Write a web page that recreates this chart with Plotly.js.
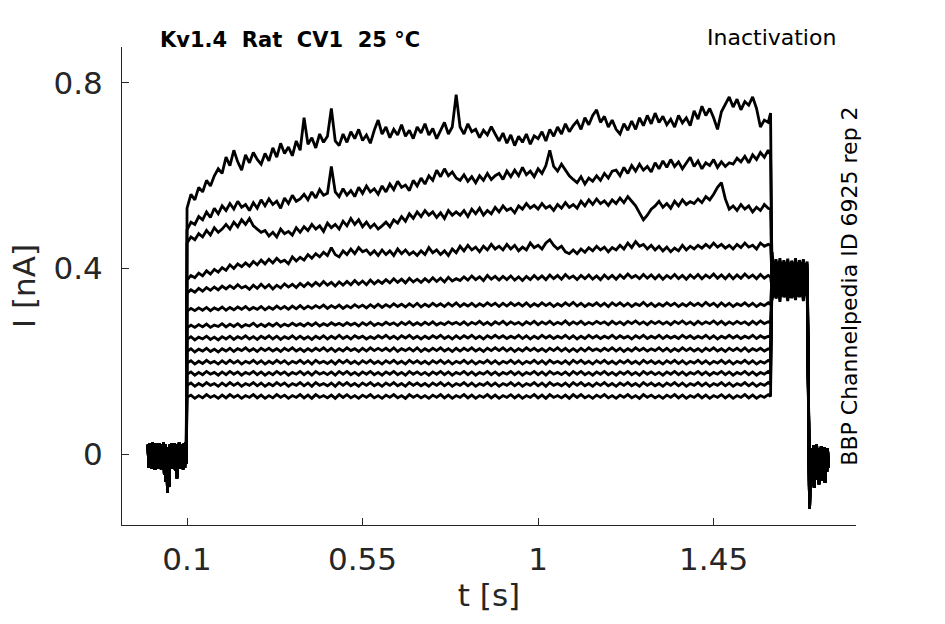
<!DOCTYPE html>
<html>
<head>
<meta charset="utf-8">
<script src="https://cdn.plot.ly/plotly-3.0.1.min.js"></script>
<style>
  html, body { margin: 0; padding: 0; background: #fff; }
  #chart { width: 945px; height: 624px; }
</style>
</head>
<body>
<div id="chart"></div>
<script>
// holding period before the step (shared by all sweeps)
const preT = [0.000,0.002,0.004,0.006,0.008,0.010,0.012,0.014,0.016,0.018,0.020,0.022,0.024,0.026,0.028,0.030,0.032,0.034,0.036,0.038,
              0.040,0.042,0.044,0.046,0.048,0.050,0.052,0.054,0.056,0.058,0.060,0.062,0.064,0.066,0.068,0.070,0.072,0.074,0.076,0.078,
              0.080,0.082,0.084,0.086,0.088,0.090,0.092,0.094,0.096,0.098];
const preI = [0.020,-0.030,0.022,-0.028,0.018,-0.032,0.024,-0.030,0.020,-0.034,0.022,-0.029,0.019,-0.031,0.023,-0.030,0.021,-0.033,0.018,-0.030,
              0.024,-0.045,0.020,-0.060,0.015,-0.084,0.010,-0.070,0.020,-0.030,0.022,-0.032,0.019,-0.028,0.023,-0.035,0.020,-0.052,0.018,-0.030,
              0.024,-0.031,0.021,-0.029,0.019,-0.033,0.022,-0.030,0.025,-0.020];

// conditioning step, 0.1 s .. 1.6 s (one list per sweep)
const stepT = [0.10,0.11,0.12,0.13,0.14,0.15,0.16,0.17,0.18,0.19, 0.20,0.21,0.22,0.23,0.24,0.25,0.26,0.27,0.28,0.29,
               0.30,0.31,0.32,0.33,0.34,0.35,0.36,0.37,0.38,0.39, 0.40,0.41,0.42,0.43,0.44,0.45,0.46,0.47,0.48,0.49,
               0.50,0.51,0.52,0.53,0.54,0.55,0.56,0.57,0.58,0.59, 0.60,0.61,0.62,0.63,0.64,0.65,0.66,0.67,0.68,0.69,
               0.70,0.71,0.72,0.73,0.74,0.75,0.76,0.77,0.78,0.79, 0.80,0.81,0.82,0.83,0.84,0.85,0.86,0.87,0.88,0.89,
               0.90,0.91,0.92,0.93,0.94,0.95,0.96,0.97,0.98,0.99, 1.00,1.01,1.02,1.03,1.04,1.05,1.06,1.07,1.08,1.09,
               1.10,1.11,1.12,1.13,1.14,1.15,1.16,1.17,1.18,1.19, 1.20,1.21,1.22,1.23,1.24,1.25,1.26,1.27,1.28,1.29,
               1.30,1.31,1.32,1.33,1.34,1.35,1.36,1.37,1.38,1.39, 1.40,1.41,1.42,1.43,1.44,1.45,1.46,1.47,1.48,1.49,
               1.50,1.51,1.52,1.53,1.54,1.55,1.56,1.57,1.58,1.59, 1.596];

const sweep1 = [0.530,0.560,0.548,0.575,0.565,0.590,0.578,0.600,0.615,0.605, 0.640,0.622,0.655,0.630,0.612,0.645,0.628,0.650,0.635,0.625,
                0.648,0.632,0.660,0.640,0.670,0.648,0.662,0.643,0.675,0.655, 0.725,0.668,0.682,0.660,0.690,0.672,0.685,0.745,0.675,0.665,
                0.690,0.672,0.695,0.680,0.700,0.676,0.688,0.670,0.698,0.720, 0.690,0.705,0.682,0.700,0.688,0.710,0.685,0.698,0.680,0.705,
                0.692,0.712,0.688,0.702,0.680,0.698,0.715,0.690,0.705,0.775, 0.705,0.690,0.712,0.695,0.700,0.682,0.698,0.688,0.706,0.690,
                0.675,0.692,0.670,0.688,0.665,0.685,0.672,0.690,0.668,0.686, 0.680,0.695,0.675,0.700,0.685,0.705,0.690,0.712,0.695,0.708,
                0.718,0.700,0.725,0.710,0.730,0.742,0.715,0.728,0.705,0.720, 0.700,0.690,0.712,0.698,0.718,0.700,0.725,0.708,0.730,0.712,
                0.735,0.715,0.728,0.710,0.722,0.705,0.730,0.714,0.725,0.708, 0.740,0.722,0.750,0.730,0.745,0.725,0.700,0.738,0.755,0.770,
                0.748,0.765,0.742,0.760,0.752,0.770,0.745,0.705,0.720,0.715, 0.735];
const sweep2 = [0.483,0.500,0.495,0.512,0.505,0.522,0.510,0.530,0.518,0.535, 0.525,0.540,0.528,0.545,0.532,0.538,0.525,0.542,0.530,0.548,
                0.535,0.550,0.538,0.545,0.530,0.552,0.540,0.558,0.545,0.550, 0.560,0.548,0.565,0.552,0.570,0.558,0.562,0.620,0.565,0.555,
                0.572,0.558,0.568,0.555,0.575,0.562,0.578,0.565,0.572,0.560, 0.578,0.565,0.582,0.570,0.588,0.575,0.580,0.568,0.590,0.578,
                0.595,0.582,0.600,0.590,0.612,0.598,0.615,0.600,0.608,0.595, 0.590,0.602,0.588,0.598,0.585,0.600,0.590,0.605,0.592,0.600,
                0.605,0.592,0.610,0.598,0.612,0.600,0.618,0.602,0.610,0.598, 0.615,0.605,0.622,0.655,0.620,0.610,0.625,0.612,0.600,0.592,
                0.585,0.598,0.582,0.595,0.588,0.600,0.590,0.605,0.595,0.610, 0.612,0.600,0.618,0.605,0.622,0.610,0.625,0.612,0.620,0.608,
                0.628,0.615,0.632,0.618,0.635,0.620,0.630,0.615,0.628,0.640, 0.620,0.632,0.615,0.628,0.622,0.635,0.618,0.630,0.620,0.628,
                0.625,0.638,0.630,0.642,0.628,0.645,0.635,0.650,0.640,0.655, 0.645];
const sweep3 = [0.455,0.468,0.462,0.475,0.468,0.482,0.472,0.488,0.478,0.485, 0.495,0.485,0.500,0.490,0.505,0.495,0.508,0.492,0.485,0.478,
                0.482,0.470,0.478,0.468,0.485,0.475,0.480,0.472,0.488,0.478, 0.490,0.482,0.495,0.485,0.492,0.480,0.498,0.488,0.495,0.485,
                0.502,0.492,0.508,0.495,0.505,0.490,0.500,0.488,0.496,0.485, 0.492,0.500,0.490,0.505,0.498,0.512,0.502,0.518,0.508,0.522,
                0.512,0.525,0.515,0.522,0.510,0.520,0.508,0.525,0.515,0.522, 0.515,0.525,0.512,0.528,0.518,0.530,0.515,0.525,0.518,0.532,
                0.522,0.535,0.525,0.530,0.520,0.535,0.528,0.540,0.530,0.536, 0.528,0.540,0.530,0.535,0.525,0.538,0.530,0.542,0.532,0.538,
                0.530,0.545,0.535,0.548,0.538,0.550,0.540,0.546,0.536,0.548, 0.540,0.552,0.542,0.555,0.545,0.535,0.520,0.505,0.515,0.528,
                0.535,0.545,0.532,0.540,0.530,0.545,0.535,0.548,0.538,0.544, 0.540,0.550,0.542,0.555,0.548,0.560,0.575,0.585,0.550,0.528,
                0.535,0.525,0.538,0.528,0.535,0.522,0.532,0.525,0.538,0.530, 0.528];
const sweep4 = [0.375,0.385,0.380,0.390,0.384,0.395,0.388,0.398,0.392,0.402, 0.396,0.408,0.400,0.410,0.404,0.412,0.405,0.415,0.408,0.418,
                0.410,0.420,0.412,0.422,0.414,0.418,0.410,0.425,0.416,0.424, 0.418,0.430,0.422,0.432,0.425,0.435,0.428,0.445,0.430,0.425,
                0.438,0.430,0.442,0.432,0.445,0.436,0.440,0.430,0.438,0.428, 0.440,0.430,0.438,0.428,0.442,0.432,0.440,0.430,0.436,0.428,
                0.438,0.430,0.445,0.434,0.440,0.430,0.438,0.428,0.442,0.434, 0.448,0.438,0.450,0.440,0.446,0.436,0.448,0.440,0.452,0.442,
                0.448,0.440,0.452,0.442,0.450,0.438,0.446,0.440,0.455,0.445, 0.450,0.442,0.455,0.462,0.450,0.442,0.448,0.436,0.432,0.440,
                0.432,0.442,0.435,0.445,0.438,0.448,0.440,0.446,0.436,0.445, 0.440,0.450,0.442,0.455,0.445,0.458,0.448,0.452,0.442,0.450,
                0.440,0.448,0.438,0.446,0.436,0.444,0.438,0.450,0.440,0.448, 0.442,0.450,0.444,0.452,0.445,0.455,0.446,0.452,0.444,0.450,
                0.442,0.452,0.445,0.455,0.446,0.450,0.442,0.455,0.448,0.452, 0.450];
const sweep5 = [0.347,0.354,0.349,0.357,0.351,0.359,0.353,0.360,0.354,0.362, 0.356,0.363,0.357,0.365,0.358,0.362,0.355,0.364,0.357,0.366,
                0.358,0.365,0.356,0.364,0.358,0.367,0.360,0.366,0.359,0.368, 0.361,0.369,0.362,0.370,0.363,0.372,0.364,0.370,0.362,0.371,
                0.364,0.372,0.365,0.374,0.366,0.373,0.365,0.375,0.367,0.374, 0.368,0.376,0.369,0.378,0.370,0.377,0.369,0.379,0.371,0.377,
                0.370,0.378,0.371,0.380,0.372,0.379,0.371,0.381,0.373,0.378, 0.374,0.382,0.375,0.384,0.376,0.382,0.374,0.385,0.377,0.383,
                0.375,0.383,0.376,0.384,0.375,0.382,0.374,0.383,0.376,0.385, 0.377,0.384,0.376,0.386,0.378,0.385,0.377,0.387,0.379,0.384,
                0.376,0.385,0.378,0.386,0.377,0.384,0.376,0.386,0.378,0.385, 0.377,0.386,0.379,0.388,0.380,0.385,0.378,0.387,0.379,0.386,
                0.378,0.386,0.377,0.385,0.379,0.387,0.378,0.385,0.377,0.386, 0.379,0.387,0.378,0.386,0.380,0.388,0.379,0.386,0.378,0.387,
                0.378,0.386,0.379,0.388,0.380,0.386,0.378,0.387,0.379,0.385, 0.382];
const sweep6 = [0.308,0.314,0.309,0.315,0.310,0.316,0.309,0.315,0.311,0.317, 0.310,0.316,0.311,0.317,0.312,0.318,0.311,0.316,0.312,0.318,
                0.311,0.317,0.312,0.319,0.313,0.318,0.312,0.319,0.313,0.320, 0.313,0.319,0.314,0.320,0.315,0.321,0.314,0.320,0.315,0.321,
                0.314,0.320,0.315,0.322,0.316,0.321,0.315,0.322,0.316,0.323, 0.316,0.322,0.317,0.324,0.318,0.323,0.317,0.324,0.318,0.325,
                0.317,0.323,0.318,0.325,0.319,0.324,0.318,0.325,0.319,0.326, 0.318,0.324,0.319,0.325,0.318,0.324,0.319,0.326,0.320,0.325,
                0.318,0.325,0.319,0.326,0.320,0.325,0.319,0.326,0.318,0.324, 0.319,0.326,0.320,0.325,0.318,0.324,0.319,0.326,0.320,0.327,
                0.319,0.325,0.318,0.324,0.320,0.326,0.319,0.325,0.318,0.326, 0.320,0.326,0.319,0.325,0.318,0.324,0.320,0.327,0.319,0.325,
                0.318,0.324,0.319,0.326,0.320,0.325,0.318,0.324,0.319,0.326, 0.320,0.325,0.319,0.327,0.320,0.325,0.318,0.326,0.319,0.325,
                0.318,0.324,0.320,0.326,0.319,0.325,0.318,0.324,0.320,0.326, 0.322];
const sweep7 = [0.272,0.278,0.273,0.279,0.274,0.280,0.273,0.278,0.275,0.281, 0.274,0.280,0.275,0.281,0.274,0.279,0.276,0.282,0.275,0.280,
                0.275,0.281,0.276,0.282,0.275,0.280,0.276,0.282,0.277,0.281, 0.276,0.282,0.277,0.283,0.276,0.281,0.277,0.283,0.278,0.282,
                0.277,0.283,0.278,0.282,0.276,0.283,0.278,0.284,0.277,0.282, 0.278,0.284,0.279,0.283,0.277,0.284,0.279,0.285,0.278,0.283,
                0.278,0.284,0.279,0.285,0.278,0.283,0.279,0.285,0.280,0.284, 0.279,0.285,0.278,0.284,0.280,0.286,0.279,0.284,0.278,0.285,
                0.280,0.286,0.279,0.285,0.280,0.284,0.278,0.285,0.280,0.286, 0.279,0.285,0.280,0.286,0.279,0.284,0.280,0.287,0.279,0.285,
                0.280,0.286,0.279,0.284,0.280,0.286,0.281,0.285,0.279,0.286, 0.280,0.285,0.279,0.286,0.281,0.287,0.280,0.285,0.279,0.286,
                0.281,0.286,0.280,0.285,0.279,0.286,0.281,0.287,0.280,0.285, 0.279,0.286,0.280,0.285,0.281,0.287,0.280,0.286,0.279,0.285,
                0.280,0.286,0.281,0.285,0.279,0.286,0.280,0.287,0.281,0.285, 0.283];
const sweep8 = [0.247,0.253,0.246,0.252,0.248,0.254,0.247,0.252,0.246,0.253, 0.248,0.254,0.247,0.253,0.249,0.255,0.248,0.253,0.247,0.254,
                0.249,0.255,0.248,0.254,0.247,0.253,0.249,0.255,0.248,0.254, 0.248,0.253,0.247,0.254,0.249,0.255,0.248,0.254,0.249,0.256,
                0.249,0.254,0.248,0.255,0.250,0.254,0.248,0.253,0.249,0.255, 0.250,0.256,0.249,0.254,0.248,0.255,0.250,0.256,0.249,0.254,
                0.248,0.254,0.249,0.255,0.250,0.256,0.249,0.254,0.248,0.255, 0.249,0.255,0.250,0.256,0.249,0.254,0.248,0.255,0.250,0.256,
                0.250,0.255,0.249,0.254,0.250,0.256,0.249,0.255,0.248,0.254, 0.249,0.256,0.250,0.255,0.249,0.254,0.250,0.256,0.249,0.255,
                0.248,0.254,0.249,0.256,0.250,0.255,0.249,0.254,0.250,0.256, 0.249,0.255,0.250,0.254,0.248,0.255,0.250,0.256,0.249,0.254,
                0.250,0.256,0.249,0.255,0.250,0.254,0.249,0.256,0.250,0.255, 0.249,0.254,0.250,0.256,0.249,0.255,0.248,0.254,0.250,0.256,
                0.250,0.255,0.249,0.254,0.250,0.256,0.249,0.255,0.250,0.254, 0.252];
const sweep9 = [0.221,0.227,0.220,0.226,0.222,0.228,0.221,0.226,0.220,0.227, 0.222,0.228,0.221,0.227,0.223,0.229,0.222,0.227,0.221,0.228,
                0.223,0.228,0.222,0.227,0.221,0.228,0.223,0.229,0.222,0.227, 0.221,0.227,0.222,0.228,0.223,0.229,0.222,0.228,0.221,0.227,
                0.222,0.229,0.223,0.227,0.221,0.228,0.222,0.229,0.223,0.228, 0.223,0.228,0.222,0.229,0.221,0.227,0.223,0.228,0.222,0.229,
                0.221,0.227,0.222,0.228,0.223,0.229,0.222,0.227,0.221,0.228, 0.222,0.228,0.223,0.229,0.222,0.227,0.221,0.228,0.223,0.229,
                0.223,0.229,0.222,0.228,0.221,0.227,0.222,0.229,0.223,0.228, 0.222,0.227,0.221,0.228,0.223,0.229,0.222,0.228,0.221,0.227,
                0.221,0.228,0.222,0.229,0.223,0.227,0.222,0.228,0.223,0.229, 0.222,0.228,0.221,0.227,0.222,0.229,0.223,0.228,0.222,0.227,
                0.223,0.229,0.222,0.228,0.221,0.227,0.222,0.229,0.223,0.228, 0.222,0.227,0.221,0.228,0.223,0.229,0.222,0.227,0.221,0.228,
                0.223,0.228,0.222,0.229,0.221,0.227,0.223,0.228,0.222,0.227, 0.225];
const sweep10 = [0.196,0.201,0.194,0.200,0.195,0.202,0.196,0.200,0.194,0.201, 0.195,0.202,0.196,0.201,0.194,0.200,0.196,0.202,0.195,0.201,
                 0.194,0.200,0.195,0.202,0.196,0.201,0.194,0.200,0.196,0.202, 0.195,0.201,0.194,0.202,0.196,0.200,0.195,0.201,0.194,0.202,
                 0.196,0.202,0.195,0.200,0.194,0.201,0.196,0.202,0.195,0.200, 0.194,0.201,0.196,0.202,0.195,0.200,0.194,0.202,0.196,0.201,
                 0.195,0.200,0.194,0.201,0.196,0.202,0.195,0.201,0.194,0.200, 0.196,0.202,0.195,0.201,0.194,0.200,0.196,0.202,0.195,0.201,
                 0.194,0.200,0.196,0.202,0.195,0.201,0.194,0.200,0.196,0.202, 0.195,0.201,0.194,0.202,0.196,0.200,0.195,0.201,0.194,0.202,
                 0.196,0.202,0.195,0.200,0.194,0.201,0.196,0.202,0.195,0.200, 0.194,0.201,0.196,0.202,0.195,0.200,0.194,0.202,0.196,0.201,
                 0.195,0.200,0.194,0.201,0.196,0.202,0.195,0.201,0.194,0.200, 0.196,0.202,0.195,0.201,0.194,0.200,0.196,0.202,0.195,0.201,
                 0.194,0.200,0.196,0.202,0.195,0.201,0.194,0.200,0.196,0.202, 0.199];
const sweep11 = [0.172,0.177,0.170,0.176,0.171,0.178,0.172,0.176,0.170,0.177, 0.171,0.178,0.172,0.177,0.170,0.176,0.172,0.178,0.171,0.177,
                 0.170,0.176,0.171,0.178,0.172,0.177,0.170,0.176,0.172,0.178, 0.171,0.177,0.170,0.178,0.172,0.176,0.171,0.177,0.170,0.178,
                 0.172,0.178,0.171,0.176,0.170,0.177,0.172,0.178,0.171,0.176, 0.170,0.177,0.172,0.178,0.171,0.176,0.170,0.178,0.172,0.177,
                 0.171,0.176,0.170,0.177,0.172,0.178,0.171,0.177,0.170,0.176, 0.172,0.178,0.171,0.177,0.170,0.176,0.172,0.178,0.171,0.177,
                 0.170,0.176,0.172,0.178,0.171,0.177,0.170,0.176,0.172,0.178, 0.171,0.177,0.170,0.178,0.172,0.176,0.171,0.177,0.170,0.178,
                 0.172,0.178,0.171,0.176,0.170,0.177,0.172,0.178,0.171,0.176, 0.170,0.177,0.172,0.178,0.171,0.176,0.170,0.178,0.172,0.177,
                 0.171,0.176,0.170,0.177,0.172,0.178,0.171,0.177,0.170,0.176, 0.172,0.178,0.171,0.177,0.170,0.176,0.172,0.178,0.171,0.177,
                 0.170,0.176,0.172,0.178,0.171,0.177,0.170,0.176,0.172,0.178, 0.175];
const sweep12 = [0.148,0.153,0.146,0.152,0.147,0.154,0.148,0.152,0.146,0.153, 0.147,0.154,0.148,0.153,0.146,0.152,0.148,0.154,0.147,0.153,
                 0.146,0.152,0.147,0.154,0.148,0.153,0.146,0.152,0.148,0.154, 0.147,0.153,0.146,0.154,0.148,0.152,0.147,0.153,0.146,0.154,
                 0.148,0.154,0.147,0.152,0.146,0.153,0.148,0.154,0.147,0.152, 0.146,0.153,0.148,0.154,0.147,0.152,0.146,0.154,0.148,0.153,
                 0.147,0.152,0.146,0.153,0.148,0.154,0.147,0.153,0.146,0.152, 0.148,0.154,0.147,0.153,0.146,0.152,0.148,0.154,0.147,0.153,
                 0.146,0.152,0.148,0.154,0.147,0.153,0.146,0.152,0.148,0.154, 0.147,0.153,0.146,0.154,0.148,0.152,0.147,0.153,0.146,0.154,
                 0.148,0.154,0.147,0.152,0.146,0.153,0.148,0.154,0.147,0.152, 0.146,0.153,0.148,0.154,0.147,0.152,0.146,0.154,0.148,0.153,
                 0.147,0.152,0.146,0.153,0.148,0.154,0.147,0.153,0.146,0.152, 0.148,0.154,0.147,0.153,0.146,0.152,0.148,0.154,0.147,0.153,
                 0.146,0.152,0.148,0.154,0.147,0.153,0.146,0.152,0.148,0.154, 0.150];
const sweep13 = [0.122,0.127,0.120,0.126,0.121,0.128,0.122,0.126,0.120,0.127, 0.121,0.128,0.122,0.127,0.120,0.126,0.122,0.128,0.121,0.127,
                 0.120,0.126,0.121,0.128,0.122,0.127,0.120,0.126,0.122,0.128, 0.121,0.127,0.120,0.128,0.122,0.126,0.121,0.127,0.120,0.128,
                 0.122,0.128,0.121,0.126,0.120,0.127,0.122,0.128,0.121,0.126, 0.120,0.127,0.122,0.128,0.121,0.126,0.120,0.128,0.122,0.127,
                 0.121,0.126,0.120,0.127,0.122,0.128,0.121,0.127,0.120,0.126, 0.122,0.128,0.121,0.127,0.120,0.126,0.122,0.128,0.121,0.127,
                 0.120,0.126,0.122,0.128,0.121,0.127,0.120,0.126,0.122,0.128, 0.121,0.127,0.120,0.128,0.122,0.126,0.121,0.127,0.120,0.128,
                 0.122,0.128,0.121,0.126,0.120,0.127,0.122,0.128,0.121,0.126, 0.120,0.127,0.122,0.128,0.121,0.126,0.120,0.128,0.122,0.127,
                 0.121,0.126,0.120,0.127,0.122,0.128,0.121,0.127,0.120,0.126, 0.122,0.128,0.121,0.127,0.120,0.126,0.122,0.128,0.121,0.127,
                 0.120,0.126,0.122,0.128,0.121,0.127,0.120,0.126,0.122,0.128, 0.124];

// test pulse after the step
const testT = [1.600,1.605,1.610,1.615,1.620,1.625,1.630,1.635,1.640,1.645,1.650,1.655,1.660,1.665,1.670,1.675,1.680,1.685,1.690];
const test1  = [0.332,0.360,0.335,0.355,0.328,0.362,0.338,0.352,0.330,0.358,0.336,0.350,0.332,0.361,0.338,0.354,0.330,0.357,0.340];
const test2  = [0.368,0.338,0.365,0.342,0.370,0.340,0.362,0.345,0.368,0.337,0.364,0.343,0.369,0.339,0.363,0.346,0.366,0.341,0.360];
const test3  = [0.345,0.372,0.348,0.370,0.342,0.375,0.350,0.368,0.345,0.374,0.349,0.369,0.344,0.373,0.351,0.367,0.346,0.372,0.350];
const test4  = [0.380,0.350,0.378,0.352,0.383,0.348,0.376,0.355,0.381,0.350,0.377,0.353,0.382,0.349,0.378,0.354,0.380,0.351,0.375];
const test5  = [0.356,0.385,0.358,0.383,0.354,0.388,0.360,0.382,0.356,0.386,0.359,0.381,0.355,0.387,0.361,0.380,0.357,0.385,0.362];
const test6  = [0.390,0.360,0.388,0.363,0.393,0.359,0.386,0.365,0.391,0.361,0.387,0.364,0.392,0.360,0.388,0.366,0.390,0.362,0.385];
const test7  = [0.366,0.395,0.368,0.392,0.364,0.397,0.370,0.391,0.366,0.396,0.369,0.390,0.365,0.396,0.371,0.390,0.367,0.394,0.372];
const test8  = [0.400,0.370,0.398,0.373,0.403,0.369,0.396,0.375,0.401,0.371,0.397,0.374,0.402,0.370,0.398,0.376,0.400,0.372,0.395];
const test9  = [0.375,0.404,0.378,0.401,0.373,0.406,0.379,0.400,0.375,0.405,0.378,0.399,0.374,0.405,0.380,0.399,0.376,0.403,0.381];
const test10 = [0.408,0.379,0.405,0.382,0.410,0.378,0.404,0.384,0.409,0.380,0.405,0.383,0.410,0.379,0.406,0.385,0.408,0.381,0.403];
const test11 = [0.383,0.412,0.386,0.409,0.381,0.414,0.387,0.408,0.383,0.413,0.386,0.407,0.382,0.413,0.388,0.407,0.384,0.411,0.389];
const test12 = [0.418,0.386,0.414,0.389,0.417,0.385,0.412,0.391,0.416,0.387,0.413,0.390,0.417,0.386,0.413,0.392,0.415,0.388,0.410];
const test13 = [0.435,0.392,0.420,0.395,0.422,0.390,0.418,0.396,0.421,0.392,0.417,0.395,0.422,0.391,0.418,0.397,0.420,0.393,0.415];

// tail after the test pulse (shared)
const postT = [1.696,1.698,1.700,1.702,1.704,1.706,1.708,1.710,1.712,1.714,1.716,1.718,1.720,1.722,1.724,1.726,1.728,1.730,1.732,1.734,
               1.736,1.738,1.740,1.742,1.744];
const postI = [-0.117,-0.010,-0.060,0.012,-0.050,0.018,-0.072,-0.002,-0.055,0.020,-0.045,0.008,-0.065,0.012,-0.040,0.016,-0.058,0.004,-0.048,0.014,
               -0.062,0.010,-0.038,0.012,-0.030];

const xTicks = [0.1, 0.55, 1, 1.45];
const xTickText = ['0.1', '0.55', '1', '1.45'];
const yTicks = [0, 0.4, 0.8];
const yTickText = ['0', '0.4', '0.8'];

const sweeps = [sweep1, sweep2, sweep3, sweep4, sweep5, sweep6, sweep7, sweep8, sweep9, sweep10, sweep11, sweep12, sweep13];
const tests = [test1, test2, test3, test4, test5, test6, test7, test8, test9, test10, test11, test12, test13];

const traces = sweeps.map((s, k) => ({
    x: preT.concat(stepT, testT, postT),
    y: preI.concat(s, tests[k], postI),
    type: 'scatter', mode: 'lines', hoverinfo: 'none',
    line: { color: '#000000', width: 2.8 }
}));

const axisColor = '#262626';
const tickFont = { family: 'DejaVu Sans', size: 31, color: axisColor };

const layout = {
    width: 945, height: 624,
    margin: { l: 122, r: 89, t: 47, b: 99 },
    paper_bgcolor: '#ffffff', plot_bgcolor: '#ffffff',
    showlegend: false,
    xaxis: {
        range: [-0.0667, 1.815], tickmode: 'array', tickvals: xTicks, ticktext: xTickText,
        ticks: 'inside', ticklen: 7, tickcolor: axisColor, tickwidth: 1,
        showline: true, linecolor: axisColor, linewidth: 1, showgrid: false, zeroline: false,
        tickfont: tickFont, ticklabelstandoff: 7,
        title: { text: 't [s]', font: tickFont, standoff: 8 }
    },
    yaxis: {
        range: [-0.1531, 0.8776], tickmode: 'array', tickvals: yTicks, ticktext: yTickText,
        ticks: 'inside', ticklen: 7, tickcolor: axisColor, tickwidth: 1,
        showline: true, linecolor: axisColor, linewidth: 1, showgrid: false, zeroline: false,
        tickfont: tickFont, ticklabelstandoff: 12,
        title: { text: 'I [nA]', font: tickFont, standoff: 8 }
    },
    annotations: [
        { text: '<b>Kv1.4  Rat  CV1  25 °C</b>', xref: 'paper', yref: 'paper', x: 0.049, y: 1.015,
          xanchor: 'left', yanchor: 'middle', showarrow: false,
          font: { family: 'DejaVu Sans', size: 21, color: '#000000' } },
        { text: 'Inactivation', xref: 'paper', yref: 'paper', x: 0.9755, y: 1.019,
          xanchor: 'right', yanchor: 'middle', showarrow: false,
          font: { family: 'DejaVu Sans', size: 22, color: '#000000' } },
        { text: 'BBP Channelpedia ID 6925 rep 2', xref: 'paper', yref: 'paper', x: 0.990, y: 0.5,
          xanchor: 'center', yanchor: 'middle', showarrow: false, textangle: -90,
          font: { family: 'DejaVu Sans', size: 22, color: '#000000' } }
    ]
};

Plotly.newPlot('chart', traces, layout, { displayModeBar: false, staticPlot: true });
</script>
</body>
</html>
